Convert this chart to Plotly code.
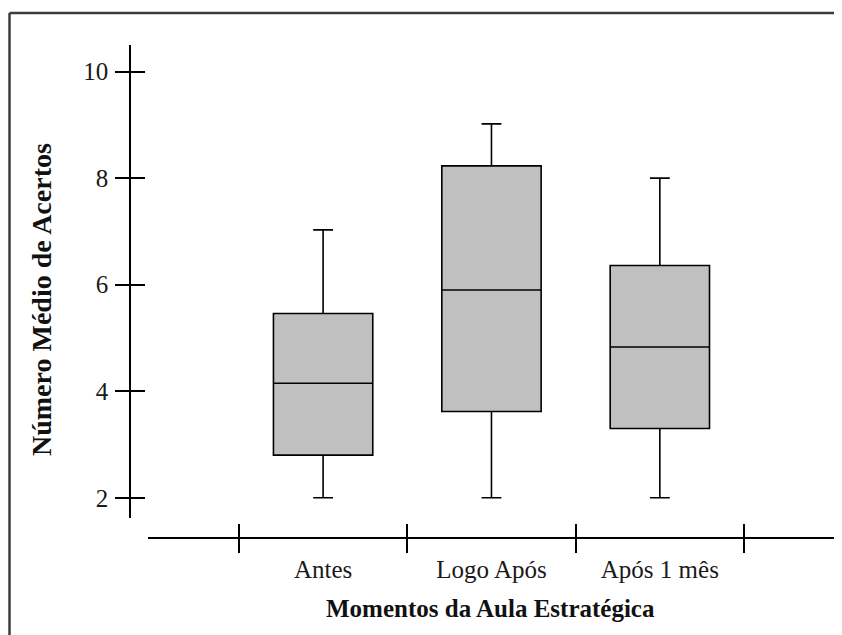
import plotly.graph_objects as go

categories = ["Antes", "Logo Após", "Após 1 mês"]
lower = [2.0, 2.0, 2.0]
q1 = [2.8, 3.62, 3.3]
median = [4.15, 5.9, 4.83]
q3 = [5.46, 8.23, 6.36]
upper = [7.03, 9.02, 8.0]
y_ticks = [2, 4, 6, 8, 10]

positions = [i + 1 for i in range(len(categories))]
boundaries = [p - 0.5 for p in positions] + [positions[-1] + 0.5]

FONT = "Liberation Serif"
W, H = 842, 627
ML, MR, MT, MB = 122, 10, 37, 97
PW = W - ML - MR
PH = H - MT - MB

fig = go.Figure()
fig.add_trace(go.Box(
    x=positions, q1=q1, median=median, q3=q3,
    lowerfence=lower, upperfence=upper,
    boxpoints=False, width=0.59, whiskerwidth=0.2,
    fillcolor="#c0c0c0", line=dict(color="black", width=1.6),
    showlegend=False, hoverinfo="skip",
))
# empty helper trace so the overlay axes (inner tick halves) are drawn
fig.add_trace(go.Scatter(x=[], y=[], xaxis="x2", yaxis="y2", showlegend=False))

xdom = [18 / PW, 1]
ydom = [20 / PH, 1]
xr = [-0.04, 4.07]
yr = [1.62, 10.5]

fig.update_layout(
    width=W, height=H,
    margin=dict(l=ML, r=MR, t=MT, b=MB),
    paper_bgcolor="white", plot_bgcolor="white",
    font=dict(family=FONT, size=25, color="black"),
    xaxis=dict(
        domain=xdom, anchor="free", position=0, range=xr,
        tickvals=positions, ticktext=categories,
        ticks="outside", ticklen=9, tickcolor="rgba(0,0,0,0)",
        showline=True, linecolor="black", linewidth=1.6,
        showgrid=False, zeroline=False,
        minor=dict(tickvals=boundaries, ticks="outside", ticklen=14,
                   tickcolor="black", tickwidth=1.6, showgrid=False),
        tickfont=dict(family=FONT, size=25, color="#1a1a1a"),
    ),
    xaxis2=dict(
        domain=xdom, anchor="free", position=0, overlaying="x", matches="x",
        range=xr, tickvals=boundaries, ticks="inside", ticklen=14,
        tickcolor="black", tickwidth=1.6, showticklabels=False,
        showline=False, showgrid=False, zeroline=False,
    ),
    yaxis=dict(
        domain=ydom, anchor="free", position=0, range=yr,
        tickvals=y_ticks, ticks="outside", ticklen=14,
        tickcolor="black", tickwidth=1.6, ticklabelstandoff=2,
        showline=True, linecolor="black", linewidth=1.6,
        showgrid=False, zeroline=False,
        tickfont=dict(family=FONT, size=25, color="#1a1a1a"),
    ),
    yaxis2=dict(
        domain=ydom, anchor="free", position=0, overlaying="y", matches="y",
        range=yr, tickvals=y_ticks, ticks="inside", ticklen=14,
        tickcolor="black", tickwidth=1.6, showticklabels=False,
        showline=False, showgrid=False, zeroline=False,
    ),
    annotations=[
        dict(text="<b>Número Médio de Acertos</b>", textangle=-90,
             xref="paper", yref="paper", x=(33 - ML) / PW, y=(H - MB - 292) / PH,
             xanchor="center", yanchor="middle", showarrow=False,
             font=dict(family=FONT, size=28, color="#111")),
        dict(text="<b>Momentos da Aula Estratégica</b>",
             xref="paper", yref="paper", x=(482 - ML) / PW, y=(H - MB - 600) / PH,
             xanchor="center", yanchor="middle", showarrow=False,
             font=dict(family=FONT, size=25, color="#111")),
    ],
)

# outer frame of the original figure
fx = 1.5 / PW - ML / PW
fy = (H - MB - 5) / PH
fig.add_shape(type="line", xref="paper", yref="paper",
              x0=fx, x1=fx, y0=fy, y1=-MB / PH - 0.01,
              line=dict(color="#3c3c3c", width=2.5))
fig.add_shape(type="line", xref="paper", yref="paper",
              x0=fx, x1=(W - ML) / PW + 0.01, y0=fy, y1=fy,
              line=dict(color="#3c3c3c", width=2.5))

fig.write_html("out.html")
